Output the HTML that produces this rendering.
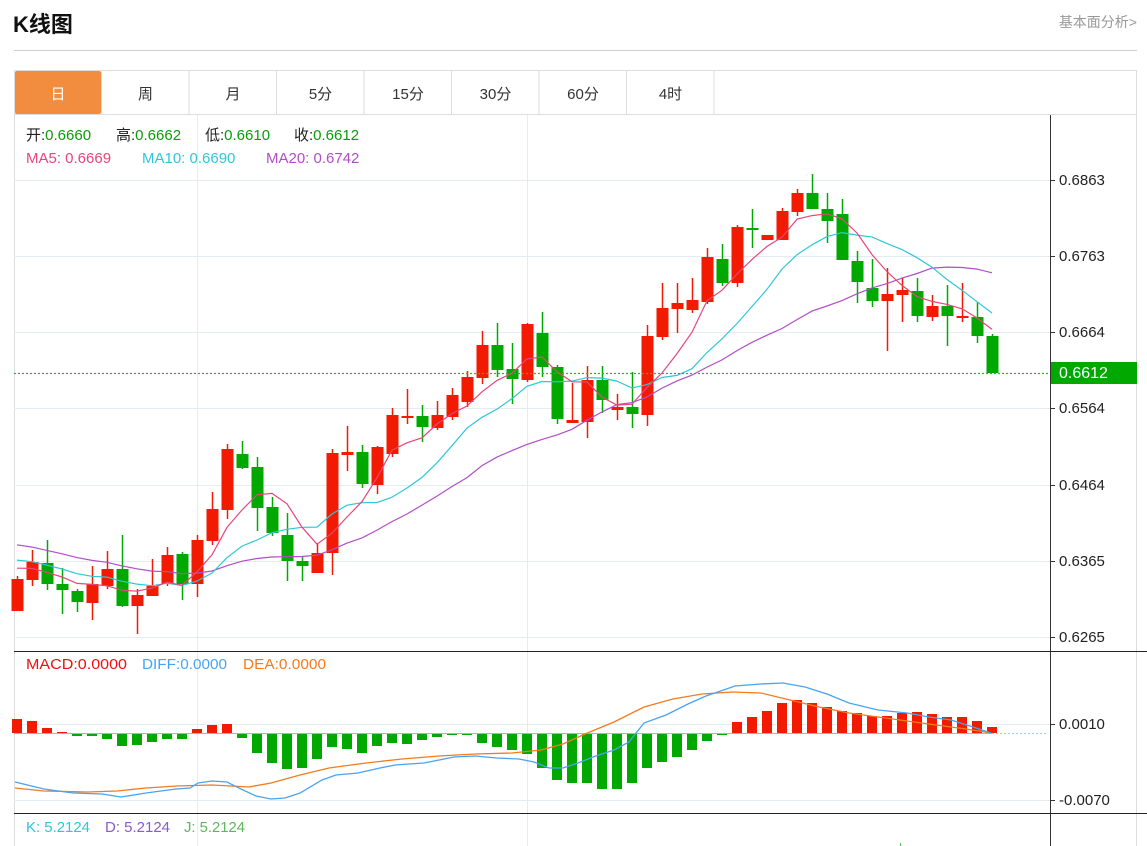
<!DOCTYPE html>
<html><head><meta charset="utf-8"><style>
body{margin:0;background:#fff;width:1147px;height:846px;overflow:hidden;font-family:"Liberation Sans","Noto Sans CJK SC",sans-serif;}
</style></head><body>
<svg id="s" width="1147" height="846" xmlns="http://www.w3.org/2000/svg" style="position:absolute;left:0;top:0">
<text x="13" y="32" font-size="22" font-weight="bold" fill="#111" font-family="Liberation Sans,Noto Sans CJK SC,sans-serif">K线图</text>
<text x="1137" y="27" font-size="14" fill="#999" text-anchor="end" font-family="Liberation Sans,Noto Sans CJK SC,sans-serif">基本面分析&gt;</text>
<line x1="14" y1="50.5" x2="1137" y2="50.5" stroke="#cfcfcf"/>
<rect x="14.5" y="70.5" width="1122" height="780" fill="none" stroke="#ddd"/>
<line x1="14" y1="114.5" x2="1137" y2="114.5" stroke="#ddd"/>
<g id="tabs" font-size="15" fill="#333" text-anchor="middle" font-family="Liberation Sans,Noto Sans CJK SC,sans-serif"></g>
<g id="g"></g>
</svg>
<script>
var NS="http://www.w3.org/2000/svg",G=document.getElementById("g"),T=document.getElementById("tabs");
function el(p,n,a,t){var e=document.createElementNS(NS,n);for(var k in a)e.setAttribute(k,a[k]);if(t!==undefined)e.textContent=t;p.appendChild(e);return e;}
var tabs=["日","周","月","5分","15分","30分","60分","4时"];
for(var i=0;i<8;i++){var x=14+i*87.5;
 if(i==0)el(T,"rect",{x:15,y:71,width:86,height:43,fill:"#f28c3e",rx:2});
 el(T,"line",{x1:x+87.5,y1:71,x2:x+87.5,y2:114,stroke:"#ddd"});
 el(T,"text",{x:x+44,y:99,fill:i==0?"#fff":"#333"},tabs[i]);}
var ticks=[[180,"0.6863"],[256,"0.6763"],[332,"0.6664"],[408,"0.6564"],[485,"0.6464"],[561,"0.6365"],[637,"0.6265"]];
ticks.forEach(function(t){el(G,"line",{x1:14,y1:t[0]+.5,x2:1050,y2:t[0]+.5,stroke:"#e4ecf2"});
 el(G,"line",{x1:1050,y1:t[0]+.5,x2:1055,y2:t[0]+.5,stroke:"#333"});
 el(G,"text",{x:1059,y:t[0]+5,"font-size":15,fill:"#222"},t[1]);});
[197,527].forEach(function(x){el(G,"line",{x1:x+.5,y1:115,x2:x+.5,y2:846,stroke:"#e4ecf2"});});
[724,800].forEach(function(y){el(G,"line",{x1:14,y1:y+.5,x2:1050,y2:y+.5,stroke:"#e4ecf2"});el(G,"line",{x1:1050,y1:y+.5,x2:1055,y2:y+.5,stroke:"#333"});});
el(G,"text",{x:1059,y:729,"font-size":15,fill:"#222"},"0.0010");
el(G,"text",{x:1059,y:805,"font-size":15,fill:"#222"},"-0.0070");
el(G,"line",{x1:1050.5,y1:115,x2:1050.5,y2:846,stroke:"#333"});
el(G,"line",{x1:14,y1:651.5,x2:1147,y2:651.5,stroke:"#222"});
el(G,"line",{x1:14,y1:813.5,x2:1147,y2:813.5,stroke:"#222"});
var C=[[1,579,611,576,611],[1,562,580,550,586],[0,563,584,540,590],[0,584,590,568,614],[0,591,602,589,612],[1,584,603,566,620],[1,569,586,551,589],[0,569,606,535,607],[1,595,606,589,634],[1,586,596,559,596],
[1,555,584,547,586],[0,554,584,552,600],[1,540,584,535,597],[1,509,541,492,545],[1,449,510,444,519],[0,454,468,441,469],[0,467,508,457,531],[0,507,533,497,536],[0,535,561,513,581],[0,561,566,557,581],
[1,553,573,543,573],[1,453,553,449,575],[1,452,455,426,471],[0,452,484,445,488],[1,447,485,446,494],[1,415,454,408,457],[1,416,418,389,424],[0,416,427,405,442],[1,415,428,401,430],[1,395,417,388,420],
[1,377,402,371,407],[1,345,378,331,384],[0,345,370,323,377],[0,369,379,343,404],[1,324,380,323,382],[0,333,367,312,377],[0,367,419,365,424],[1,420,423,383,423],[1,380,422,366,438],[0,380,400,366,413],
[1,407,410,394,420],[0,407,414,372,428],[1,336,415,325,426],[1,308,337,283,340],[1,303,309,283,333],[1,300,310,278,313],[1,257,302,248,304],[0,259,283,244,286],[1,227,283,225,287],[0,228,230,209,248],
[1,235,240,235,240],[1,211,240,208,240],[1,193,212,189,216],[0,193,209,174,209],[0,209,221,193,243],[0,214,260,199,260],[0,261,282,251,303],[0,288,301,259,307],[1,294,301,268,351],[1,290,295,278,322],
[0,291,316,278,322],[1,306,317,295,321],[0,306,316,285,346],[1,316,318,283,322],[0,317,336,302,343],[0,336,373,334,373]];
var RED="#f21a00",GRN="#00a800";
var closes=[];
C.forEach(function(c,i){var x=17+15*i,col=c[0]?RED:GRN;
 el(G,"line",{x1:x+.5,y1:c[3],x2:x+.5,y2:c[4],stroke:col,"stroke-width":1.5});
 el(G,"rect",{x:x-5.5,y:c[1],width:12,height:Math.max(2,c[2]-c[1]),fill:col});
 closes.push(c[0]?c[1]:c[2]);});
var pre=[];for(var k=19;k>=1;k--)pre.push(570-(k-1)*3);
var all=pre.concat(closes);
function ma(n,col){var pts=[];for(var i=0;i<closes.length;i++){var s=0;for(var j=0;j<n;j++)s+=all[19+i-j];pts.push((17+15*i)+","+(s/n).toFixed(1));}
 el(G,"polyline",{points:pts.join(" "),fill:"none",stroke:col,"stroke-width":1.2});}
ma(20,"#b04fc7");ma(10,"#2ec7d9");ma(5,"#e9457b");
el(G,"line",{x1:14,y1:373.5,x2:1050,y2:373.5,stroke:"#2db52d","stroke-width":1.3,"stroke-dasharray":"2,2"});
el(G,"rect",{x:1051,y:362,width:86,height:22,fill:"#00a800"});
el(G,"text",{x:1059,y:378,"font-size":16,fill:"#fff"},"0.6612");
function pair(x,y,lab,lc,val,vc,fs){var t=el(G,"text",{x:x,y:y,"font-size":fs});el(t,"tspan",{fill:lc},lab);el(t,"tspan",{fill:vc},val);}
var gv="#0a9b0a";
pair(26,140,"开:","#222","0.6660",gv,15);pair(116,140,"高:","#222","0.6662",gv,15);
pair(205,140,"低:","#222","0.6610",gv,15);pair(294,140,"收:","#222","0.6612",gv,15);
el(G,"text",{x:26,y:163,"font-size":15,fill:"#e9457b"},"MA5:  0.6669");
el(G,"text",{x:142,y:163,"font-size":15,fill:"#2ec7d9"},"MA10:  0.6690");
el(G,"text",{x:266,y:163,"font-size":15,fill:"#b04fc7"},"MA20:  0.6742");
var M=[719,721,728,732,736,736,739,746,745,742,739,739,729,725,724,738,753,763,769,768,759,747,749,753,746,743,744,740,737,735,735,743,747,750,754,768,780,783,783,789,789,783,768,762,757,750,741,735,722,717,711,703,700,703,707,711,713,716,716,713,712,714,717,717,721,727];
M.forEach(function(y,i){var x=17+15*i;var top=Math.min(y,733),h=Math.abs(y-733);if(h<1)return;
 el(G,"rect",{x:x-5,y:top,width:10,height:h,fill:y<733?RED:GRN});});
el(G,"line",{x1:14,y1:733.5,x2:992,y2:733.5,stroke:"#e99"});
el(G,"line",{x1:992,y1:733.5,x2:1048,y2:733.5,stroke:"#9fcfe8","stroke-dasharray":"2,2"});
var DIFF="15,782 44,789 73,793 102,794 121,797 146,793 176,789 190,788 198,783 212,781 227,782 241,789 256,796 271,799 285,798 300,793 322,780 336,775 358,773 380,768 395,765 424,763 454,757 475,756 497,758 519,759 534,762 549,768 563,768 578,763 593,757 614,750 629,742 644,723 666,715 688,704 706,696 735,686 761,684 783,683 805,687 827,694 849,703 878,710 907,713 929,717 951,720 973,727 991,733";
var DEA="15,788 44,791 88,792 117,791 146,788 176,786 212,785 249,787 271,783 300,775 329,768 366,763 402,759 439,756 475,754 512,753 541,750 563,744 585,734 614,722 644,707 673,699 702,694 732,692 761,693 790,700 819,707 849,713 878,717 907,721 936,725 966,729 991,733";
el(G,"polyline",{points:DEA,fill:"none",stroke:"#f57a1d","stroke-width":1.3});
el(G,"polyline",{points:DIFF,fill:"none",stroke:"#4aa3f0","stroke-width":1.3});
el(G,"text",{x:26,y:669,"font-size":15,fill:"#f01010",textLength:101,lengthAdjust:"spacingAndGlyphs"},"MACD:0.0000");
el(G,"text",{x:142,y:669,"font-size":15,fill:"#4aa3f0",textLength:85,lengthAdjust:"spacingAndGlyphs"},"DIFF:0.0000");
el(G,"text",{x:243,y:669,"font-size":15,fill:"#f57a1d",textLength:83,lengthAdjust:"spacingAndGlyphs"},"DEA:0.0000");
el(G,"text",{x:26,y:832,"font-size":15,fill:"#2ec7d9",textLength:64,lengthAdjust:"spacingAndGlyphs"},"K: 5.2124");
el(G,"text",{x:105,y:832,"font-size":15,fill:"#8a5cc8",textLength:65,lengthAdjust:"spacingAndGlyphs"},"D: 5.2124");
el(G,"text",{x:184,y:832,"font-size":15,fill:"#5cb85c",textLength:61,lengthAdjust:"spacingAndGlyphs"},"J: 5.2124");
el(G,"line",{x1:900.5,y1:843,x2:900.5,y2:846,stroke:"#5cb85c"});
</script>
</body></html>
